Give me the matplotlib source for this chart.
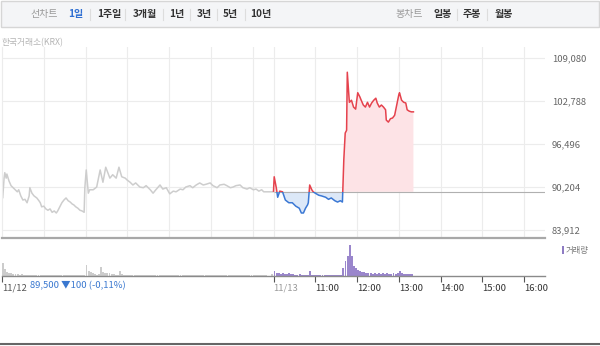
import numpy as np
import matplotlib
matplotlib.use("Agg")
import matplotlib.pyplot as plt
from matplotlib.patches import Rectangle
from matplotlib.lines import Line2D

plt.rcParams['font.family'] = ['Noto Sans CJK KR', 'DejaVu Sans']

W, H = 600, 346

# 11/12 session (minutes after 09:00) and price
day1_min = [0, 1, 3, 4, 6, 7, 10, 13, 16, 19, 22, 24, 27, 30, 33, 36, 39, 40, 43, 46,
            50, 53, 55, 57, 60, 63, 66, 69, 72, 75, 78, 80, 83, 86, 89, 92, 95, 98, 101, 103,
            106, 109, 112, 115, 118, 119, 121, 124, 126, 131, 136, 141, 145, 149, 155, 159, 164,
            168, 172, 177, 180, 184, 188, 192, 198, 203, 207, 213, 217, 221, 227, 231, 236, 241,
            246, 250, 256, 260, 264, 270, 274, 279, 284, 289, 293, 299, 303, 309, 313, 319, 323,
            328, 332, 336, 342, 346, 352, 356, 361, 365, 369, 373, 376, 380, 390]
day1_price = [88700, 88600, 91500, 92300, 91500, 92100, 91100, 90400, 90100, 89800,
              89500, 89800, 88900, 88300, 88400, 87900, 88900, 90100, 89300, 88900,
              88600, 88200, 87900, 87300, 87400, 87000, 86800, 87000, 86500, 86700,
              86400, 86700, 87300, 87900, 88300, 88600, 88200, 88000, 87700, 87600,
              87300, 87100, 86800, 86700, 86500, 90100, 92700,
              89300, 89800, 89800, 90200, 92700, 90900, 93100, 91500, 92000, 91500,
              93100, 91700, 91500, 91200, 90900, 90500, 90800, 90200, 90100, 90400,
              89800, 89300, 89800, 90500, 89900, 90100, 89200, 89600, 89500, 89900,
              89800, 90200, 90400, 90100, 90500, 90800, 90500, 90600, 90800, 90400,
              90100, 90500, 90600, 90400, 90100, 90200, 90400, 90500, 90100, 89900,
              90100, 89800, 89900, 89600, 89800, 89500, 89500, 89500]

# 11/13 session (minutes after 10:00) and price
day2_min = [0, 1, 4, 6, 9, 13, 17, 22, 27, 32, 37, 40, 43, 46, 49, 50, 52, 55, 57, 60,
            65, 69, 75, 79, 83, 88, 92, 96, 99, 101, 103, 105, 106, 108, 109, 112, 115, 118,
            121, 124, 126, 129, 132, 135, 138, 141, 144, 147, 149, 152, 155, 158, 161, 162,
            165, 168, 171, 174, 177, 180, 181, 184, 187, 190, 192, 195, 198, 201]
day2_price = [89600, 91700, 90100, 88700, 89600, 89500, 88300, 87900, 87900, 87400,
              87100, 86400, 86400, 87100, 87600, 87900, 90500, 89800, 89500, 89300,
              89000, 88900, 88700, 88400, 88600, 88200, 88000, 88200, 88000, 94200,
              98100, 98500, 107000, 104000, 102600, 102900, 101900, 101600,
              104000, 103400, 102900, 102200, 101900, 102600, 101900, 102500, 102900,
              103200, 102500, 101900, 102200, 101900, 101500, 100000,
              99700, 100200, 100300, 100700, 102200, 103700, 104000, 102900, 102600,
              102500, 101500, 101300, 101200, 101200]

prev_close = 89500
y_ticks = [83912, 90204, 96496, 102788, 109080]

# volume, 3-minute bins
day1_vol = [13, 7, 4, 3, 3, 2, 2, 2, 1.5, 2,
            1.5, 1, 1.5, 1, 1, 1, 0.8, 1, 1, 0.8,
            1, 1, 0.8, 1, 1, 0.8, 1, 1, 1, 0.8,
            1, 1, 0.8, 1, 1, 1, 0.8, 1, 1, 1.5,
            11, 5, 4, 3, 2, 1.5, 2, 9, 4, 3,
            3, 3, 2, 2, 1.5, 1.5, 5, 2, 1.5, 1,
            1, 1, 1, 0.8, 1, 1, 1, 0.8, 1, 1,
            1, 0.8, 1, 1, 1, 1, 0.8, 1, 1, 1,
            1, 1, 0.8, 1, 1, 1, 0.8, 1, 1, 1,
            1, 0.8, 1, 1, 1, 1.2, 1, 1, 0.8, 1,
            1, 1, 1, 0.8, 1, 1, 1, 1, 0.8, 1,
            1, 1, 1, 1, 1.2, 1, 1, 0.8, 1, 1,
            1, 1, 1, 1, 0.8, 1, 1, 0, 0, 2]
day2_vol = [5, 3, 3, 2, 3, 2, 2, 3, 2, 2,
            1, 1, 2, 1, 1, 1, 1, 5, 1, 1.5,
            1, 1, 1, 1, 1, 1, 1, 1, 1, 1,
            1, 1, 1, 8, 15, 20, 31, 20, 10, 8,
            6, 5, 4, 4, 3, 3, 3, 2, 3, 2,
            3, 2, 3, 2, 3, 2, 2, 3, 2, 3,
            5, 3, 2, 2, 2, 2, 2]

tick_pos = [0, 390, 450, 510, 570, 630, 690, 750]
tick_labels = ['11/12', '11/13', '11:00', '12:00', '13:00', '14:00', '15:00', '16:00']

RED = '#e5424d'
BLUE = '#3b78d4'
GRAY_LINE = '#cdcdcd'
PURPLE = '#9a86cc'


def fx(x):
    return x / W


def fy(y):
    return 1 - y / H


fig = plt.figure(figsize=(W / 100, H / 100), dpi=100)

# header bar
fig.add_artist(Rectangle((fx(1), fy(27)), fx(598), 26 / H, transform=fig.transFigure,
                         facecolor='#f4f5f7', edgecolor='#d6d6d6', lw=1))
left_items = [('선차트', 30, '#999999', 'normal'), ('1일', 68, '#2f6fd2', 'bold'),
              ('1주일', 97, '#333333', 'bold'), ('3개월', 133, '#333333', 'bold'),
              ('1년', 169, '#333333', 'bold'), ('3년', 197, '#333333', 'bold'),
              ('5년', 223, '#333333', 'bold'), ('10년', 250, '#333333', 'bold'),
              ('봉차트', 395, '#999999', 'normal'), ('일봉', 433, '#333333', 'bold'),
              ('주봉', 463, '#333333', 'bold'), ('월봉', 495, '#333333', 'bold')]
for txt, x, c, w in left_items:
    fig.text(fx(x), fy(14.5), txt, color=c, fontweight=w, fontsize=7.2, ha='left', va='center')
for x in [90, 125, 163, 190, 217, 245, 457, 487]:
    fig.add_artist(Line2D([fx(x), fx(x)], [fy(9), fy(20)], transform=fig.transFigure,
                          color='#dddddd', lw=0.8))

fig.text(fx(2), fy(43), '한국거래소(KRX)', color='#b5b5b5', fontsize=6.3, ha='left', va='center')

# price panel
ax = fig.add_axes([fx(2), fy(238), 543 / W, (238 - 47) / H])
px_per_price = 172 / (109080 - 83912)
ax.set_xlim(0, 780)
ax.set_ylim(83912 - 8 / px_per_price, 109080 + 11 / px_per_price)

t1 = np.array(day1_min, dtype=float)
p1 = np.array(day1_price, dtype=float)
t2 = np.array(day2_min, dtype=float) + 390
p2 = np.array(day2_price, dtype=float)

ax.plot(t1, p1, color=GRAY_LINE, lw=1.1)
ax.hlines(prev_close, 390, 780, color='#b0b0b0', lw=0.8)
ax.fill_between(t2, p2, prev_close, where=p2 >= prev_close, interpolate=True,
                color='#fde3e6', lw=0)
ax.fill_between(t2, p2, prev_close, where=p2 <= prev_close, interpolate=True,
                color='#dce8f8', lw=0)
line_up, = ax.plot(t2, p2, color=RED, lw=1.1)
line_dn, = ax.plot(t2, p2, color=BLUE, lw=1.1)
clip_up = Rectangle((380, prev_close), 400, 30000, transform=ax.transData)
clip_dn = Rectangle((380, prev_close - 30000), 400, 30000, transform=ax.transData)
line_up.set_clip_path(clip_up)
line_dn.set_clip_path(clip_dn)

ax.set_xticks([60, 120, 180, 240, 300, 360, 390, 450, 510, 570, 630, 690, 750])
ax.set_yticks(y_ticks)
ax.set_yticklabels([f'{v:,}' for v in y_ticks])
ax.yaxis.tick_right()
ax.tick_params(axis='x', length=0, labelbottom=False)
ax.tick_params(axis='y', length=0, pad=5, labelsize=6.8, labelcolor='#666666')
ax.grid(color='#ececec', lw=0.8)
ax.set_axisbelow(True)
for s in ['top', 'right']:
    ax.spines[s].set_visible(False)
ax.spines['left'].set_color('#ececec')
ax.spines['left'].set_linewidth(0.8)
ax.spines['bottom'].set_color('#a8a8a8')
ax.spines['bottom'].set_linewidth(1.6)

# volume panel
axv = fig.add_axes([fx(2), fy(276), 543 / W, 36 / H])
axv.set_xlim(0, 780)
axv.set_ylim(0, 36)
b1 = np.arange(len(day1_vol)) * 3
b2 = np.arange(len(day2_vol)) * 3 + 390
axv.bar(b1, day1_vol, width=2.8, align='edge', color='#cccccc', lw=0)
axv.bar(b2, day2_vol, width=2.8, align='edge', color=PURPLE, lw=0)
for s in ['top', 'right', 'left']:
    axv.spines[s].set_visible(False)
axv.spines['bottom'].set_color('#8a8a8a')
axv.spines['bottom'].set_linewidth(1)
axv.set_yticks([])
axv.set_xticks(tick_pos)
axv.set_xticklabels(tick_labels, ha='left')
axv.tick_params(axis='x', length=4, width=0.8, color='#555555', pad=1.5,
                labelsize=6.8, labelcolor='#333333')
lbls = axv.get_xticklabels()
lbls[0].set_color('#555555')
lbls[1].set_color('#999999')

fig.text(fx(30), fy(285.5), '89,500 ▼100 (-0,11%)', color='#3a78d0', fontsize=6.8,
         ha='left', va='center')

# volume legend
fig.add_artist(Rectangle((fx(562), fy(254)), 2 / W, 8 / H, transform=fig.transFigure,
                         facecolor='#8e7cc3', lw=0))
fig.text(fx(566), fy(250), '거래량', color='#777777', fontsize=6, ha='left', va='center')

# bottom border
fig.add_artist(Line2D([0, 1], [fy(343.5), fy(343.5)], transform=fig.transFigure,
                      color='#666666', lw=1.5))

fig.savefig('out.png', dpi=100)
